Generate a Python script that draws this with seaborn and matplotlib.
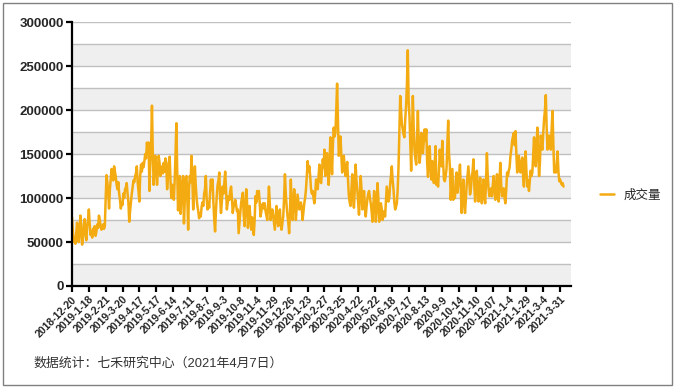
import matplotlib
matplotlib.use('Agg')
import matplotlib.pyplot as plt
import seaborn as sns
import numpy as np
import pandas as pd
from matplotlib.patches import Rectangle

# --- Dados (成交量, em milhares, um valor por pregão) ---
volume_k = [
    78, 62, 50, 55, 48, 60, 72, 58, 50, 65, 80, 62, 47, 55, 70, 76, 60, 52, 68, 75,
    87, 70, 58, 62, 55, 65, 60, 68, 57, 62, 70, 66, 80, 75, 68, 64, 66, 70, 65, 68,
    100, 126, 118, 105, 88, 110, 122, 133, 128, 120, 136, 130, 124, 115, 110, 118, 105, 98, 88, 95,
    92, 105, 100, 110, 112, 117, 105, 95, 73, 85, 95, 105, 112, 120, 118, 125, 128, 136, 118, 108,
    96, 125, 138, 130, 140, 135, 142, 150, 145, 163, 155, 163, 108, 140, 160, 205, 150, 115, 130, 148,
    135, 115, 130, 148, 140, 125, 132, 136, 128, 140, 130, 145, 138, 110, 125, 140, 147, 120, 100, 115,
    105, 98, 120, 150, 185, 130, 86, 110, 125, 82, 100, 118, 125, 71, 95, 122, 125, 100, 64, 110,
    125, 118, 148, 120, 87, 110, 136, 115, 100, 91, 85, 77, 82, 79, 90, 95, 91, 105, 110, 125,
    100, 87, 95, 89, 105, 121, 110, 121, 95, 75, 62, 85, 102, 115, 120, 129, 100, 83, 95, 113,
    105, 118, 130, 110, 87, 95, 102, 98, 108, 113, 100, 83, 90, 94, 98, 92, 85, 87, 60, 72,
    83, 95, 100, 106, 80, 68, 90, 110, 95, 66, 80, 91, 75, 64, 78, 70, 58, 75, 102, 95,
    108, 100, 108, 95, 79, 85, 92, 94, 88, 94, 85, 80, 75, 90, 113, 95, 75, 82, 87, 80,
    72, 64, 80, 91, 75, 68, 80, 87, 70, 64, 72, 79, 100, 127, 105, 91, 80, 72, 60, 85,
    121, 95, 75, 90, 110, 95, 75, 90, 104, 95, 87, 92, 95, 88, 75, 85, 94, 100, 110, 125,
    142, 130, 136, 125, 110, 105, 108, 100, 94, 105, 121, 115, 110, 125, 138, 120, 117, 130, 144, 135,
    155, 125, 140, 151, 130, 115, 140, 169, 150, 127, 160, 180, 170, 174, 200, 230, 190, 148, 155, 170,
    150, 129, 140, 148, 135, 125, 132, 141, 120, 102, 95, 91, 110, 127, 100, 89, 110, 138, 120, 110,
    95, 81, 100, 125, 110, 87, 95, 108, 92, 79, 90, 99, 105, 108, 100, 94, 85, 73, 90, 108,
    95, 73, 90, 117, 100, 73, 85, 94, 88, 75, 80, 85, 79, 95, 113, 105, 96, 100, 115, 125,
    136, 120, 110, 95, 87, 90, 94, 110, 136, 175, 216, 200, 184, 178, 172, 169, 190, 205, 230, 268,
    210, 193, 160, 131, 170, 216, 180, 155, 145, 138, 170, 199, 160, 140, 150, 174, 160, 151, 165, 178,
    165, 178, 140, 124, 145, 159, 135, 121, 142, 130, 117, 140, 159, 115, 120, 113, 130, 155, 140, 136,
    165, 140, 121, 119, 125, 133, 160, 188, 150, 136, 98, 115, 133, 98, 105, 100, 120, 129, 106, 115,
    125, 138, 110, 83, 100, 121, 95, 83, 100, 115, 125, 136, 120, 104, 110, 125, 130, 144, 115, 96,
    110, 131, 115, 96, 110, 123, 105, 94, 110, 121, 100, 94, 120, 151, 125, 110, 102, 108, 111, 102,
    115, 125, 110, 98, 115, 127, 105, 96, 120, 140, 115, 102, 108, 111, 100, 94, 110, 129, 125, 131,
    135, 148, 155, 165, 170, 174, 160, 176, 150, 129, 140, 148, 135, 129, 140, 146, 125, 113, 140, 153,
    130, 113, 120, 108, 120, 131, 125, 129, 150, 169, 150, 136, 160, 180, 150, 125, 140, 171, 160, 155,
    175, 190, 200, 217, 180, 155, 165, 171, 160, 155, 180, 199, 160, 129, 135, 129, 140, 153, 130, 119,
    121, 118, 115, 117, 113,
]

tick_labels = [
    '2018-12-20', '2019-1-18', '2019-2-21', '2019-3-20', '2019-4-17', '2019-5-17',
    '2019-6-14', '2019-7-11', '2019-8-7', '2019-9-3', '2019-10-8', '2019-11-4',
    '2019-11-29', '2019-12-26', '2020-1-23', '2020-2-27', '2020-3-25', '2020-4-22',
    '2020-5-22', '2020-6-18', '2020-7-17', '2020-8-13', '2020-9-9', '2020-10-14',
    '2020-11-10', '2020-12-07', '2021-1-4', '2021-1-29', '2021-3-4', '2021-3-31',
]
tick_step = 20  # um rótulo a cada 20 pregões

series_name = '成交量'
source_note = '数据统计：七禾研究中心（2021年4月7日）'
line_color = '#F4AB11'

df = pd.DataFrame({'idx': np.arange(len(volume_k)),
                   'volume': np.array(volume_k) * 1000})

# --- Estilo ---
sns.set_theme(style='white')
plt.rcParams['font.family'] = ['Liberation Sans', 'Noto Sans CJK SC', 'DejaVu Sans']

fig = plt.figure(figsize=(6.75, 3.87), dpi=100)
ax = fig.add_axes([0.1067, 0.261, 0.7393, 0.682])

# faixas alternadas e linhas de grade a cada 25000
for lo in range(0, 300000, 50000):
    ax.axhspan(lo, lo + 25000, color='#EFEFEF', zorder=0, lw=0)
for yv in range(25000, 300001, 25000):
    ax.axhline(yv, color='#C0C0C0', lw=1.0, zorder=1)

sns.lineplot(data=df, x='idx', y='volume', ax=ax, color=line_color,
             linewidth=1.8, label=series_name, zorder=3)

ax.set_xlim(0, 593)
ax.set_ylim(0, 300000)
ax.set_yticks(range(0, 300001, 50000))
ax.set_yticklabels([str(v) for v in range(0, 300001, 50000)],
                   fontsize=9.5, fontweight='bold')
ax.set_xticks(np.arange(len(tick_labels)) * tick_step)
ax.set_xticklabels(tick_labels, rotation=45, ha='right', rotation_mode='anchor',
                   fontsize=7.6, fontweight='bold')
ax.set_xlabel('')
ax.set_ylabel('')

for side in ['top', 'right']:
    ax.spines[side].set_visible(False)
for side in ['left', 'bottom']:
    ax.spines[side].set_color('black')
    ax.spines[side].set_linewidth(1.6)
    ax.spines[side].set_zorder(4)
ax.tick_params(axis='both', which='major', direction='out', length=4,
               width=1.6, color='black', pad=2, left=True, bottom=True)

# legenda à direita
ax.get_legend().remove()
handles, labels = ax.get_legend_handles_labels()
fig.legend(handles, labels, loc='center left', bbox_to_anchor=(0.872, 0.495),
           frameon=False, handlelength=1.1, handletextpad=0.8, fontsize=9)

# nota de fonte
fig.text(33 / 675, 1 - 363 / 387, source_note, fontsize=9.3, color='#333333',
         va='center', ha='left')

# moldura externa
fig.patches.append(Rectangle((3 / 675, 2 / 387), 669 / 675, 382 / 387,
                             transform=fig.transFigure, fill=False,
                             edgecolor='#808080', linewidth=1.0))

plt.savefig('out.png', dpi=100)
plt.close()
